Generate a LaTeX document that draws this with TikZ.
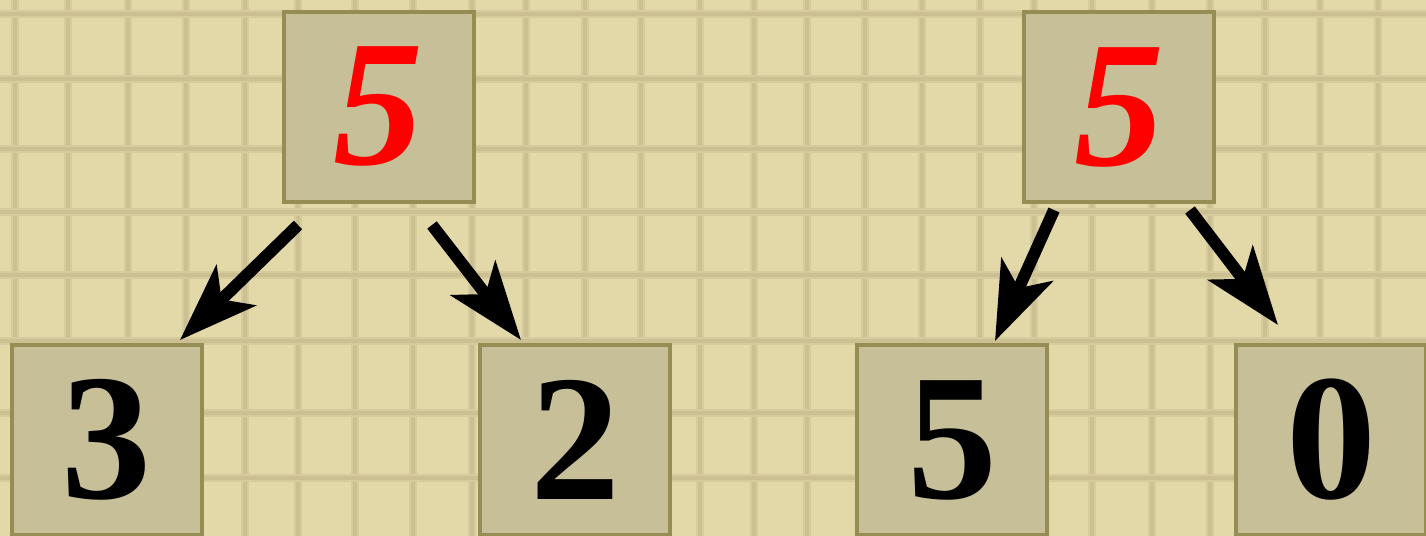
\documentclass[tikz,border=0pt]{standalone}
\usepackage{fontspec}
\setmainfont{Liberation Serif}
\usetikzlibrary{arrows.meta}
\definecolor{bg}{HTML}{E3D8A8}
\definecolor{gridlight}{HTML}{D6CB9D}
\definecolor{griddark}{HTML}{CCC093}
\definecolor{boxfill}{HTML}{C6BF98}
\definecolor{boxline}{HTML}{968D55}
\definecolor{digitred}{HTML}{FF0000}
\begin{document}
\begin{tikzpicture}[x=0.5pt,y=-0.5pt,
  gridband/.style={draw=gridlight,line width=3.8pt},
  gridcore/.style={draw=griddark,line width=2.2pt},
  numbox/.style={draw=boxline,fill=boxfill,line width=2pt,
    minimum width=95pt,minimum height=95pt,inner sep=0pt,
    font=\fontsize{90}{90}\selectfont\bfseries},
  topdigit/.style={text=digitred,font=\fontsize{90}{90}\selectfont\bfseries\itshape},
  arr/.style={draw=black,line width=6pt,
    -{Stealth[length=39pt,width=28pt,inset=10pt]}}]
\useasboundingbox (0,0) rectangle (1426,536);
\clip (0,0) rectangle (1426,536);
\fill[bg] (0,0) rectangle (1426,536);
% grid
\foreach \x in {15,68,128,186,245,298,355,413,472,526,585,641,700,754,807,865,922,980,1034,1092,1152,1210,1265,1320,1378}{
  \draw[gridband] (\x,0) -- (\x,536);
  \draw[gridcore] (\x,0) -- (\x,536);
}
\foreach \y in {14,79,149,212,275,341,413,478}{
  \draw[gridband] (0,\y) -- (1426,\y);
  \draw[gridcore] (0,\y) -- (1426,\y);
}
% boxes
\node[numbox,topdigit] (t1) at (378.5,106.5) {\raisebox{-7pt}{5}};
\node[numbox,topdigit] (t2) at (1119,107) {\raisebox{-7pt}{5}};
\node[numbox] (b3) at (106.5,440) {\raisebox{-2.5pt}{3}};
\node[numbox] (b2) at (575,440) {\raisebox{-2.5pt}{2}};
\node[numbox] (b5) at (952,440) {\raisebox{-2.5pt}{5}};
\node[numbox] (b0) at (1331,440) {\raisebox{-2.5pt}{0}};
% arrows
\draw[arr] ([shift={(-80.5,21.5)}]t1.south) -- ([shift={(-23.5,-3)}]b3.north east);
\draw[arr] ([shift={(53.5,21.5)}]t1.south) -- ([shift={(43,-3)}]b2.north west);
\draw[arr] ([shift={(-65,6)}]t2.south) -- ([shift={(-54,-2)}]b5.north east);
\draw[arr] ([shift={(71,6)}]t2.south) -- ([shift={(44,-18)}]b0.north west);
\end{tikzpicture}
\end{document}
